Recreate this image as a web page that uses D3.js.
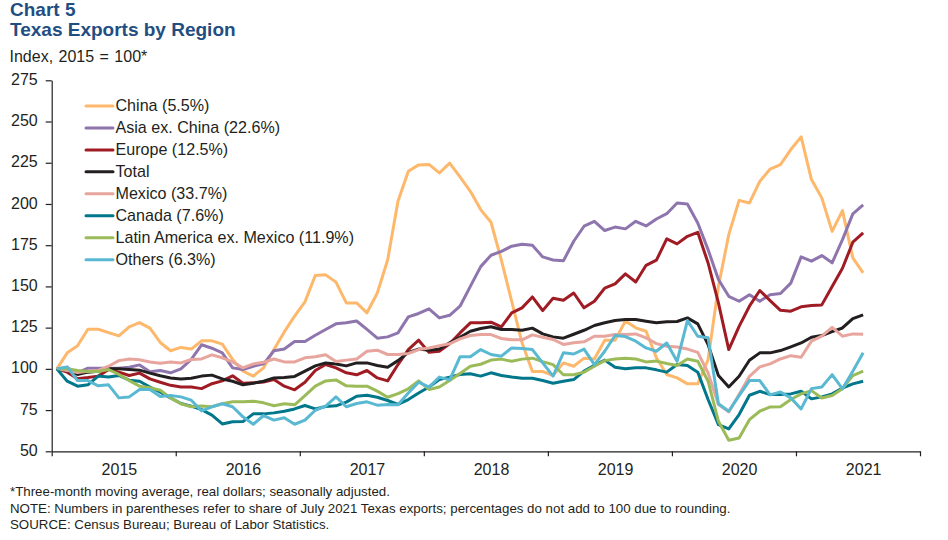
<!DOCTYPE html>
<html>
<head>
<meta charset="utf-8">
<script src="https://cdn.jsdelivr.net/npm/d3@7"></script>
<style>
  html, body { margin: 0; padding: 0; background: #fff; }
  svg { display: block; }
  text { font-family: "Liberation Sans", Arial, sans-serif; fill: #231f20; }
  .title { font-weight: bold; font-size: 19px; fill: #1f4e82; }
  .foot { font-size: 13.3px; }
  .axis text { font-size: 16px; }
  .axis path, .axis line { stroke: #231f20; stroke-width: 1.2; }
  .legend text { font-size: 16.1px; }
</style>
</head>
<body>
<script>
const width = 948;
const height = 540;

const years = ['2015', '2016', '2017', '2018', '2019', '2020', '2021'];
const yTicks = [50, 75, 100, 125, 150, 175, 200, 225, 250, 275];

// monthly, Jan 2015 - Jul 2021
const china = [100, 109.7, 114, 124, 124, 122, 120, 125.5, 128, 124.7, 116, 111, 113, 112, 117, 117, 115, 105.7, 98.6, 95.6, 100.6, 111.7, 122.4, 132, 140.6, 156.6, 157, 152.6, 140, 140, 134, 146, 166, 201.6, 219.8, 223.7, 224, 218.8, 224.8, 216.4, 207.7, 196.6, 188.9, 166, 141, 115.8, 98.4, 98.4, 96, 103.6, 101.6, 106.5, 106, 117.4, 117.4, 129, 124.9, 122.8, 106.7, 96.6, 94.5, 90.9, 90.9, 105.6, 150, 181.4, 202.2, 200.6, 213.7, 221.2, 223.9, 233, 240.7, 214.8, 203.7, 183.4, 196, 167.3, 158.2];
const asia = [100, 100.6, 97.6, 100.4, 100.4, 100.4, 100.4, 101, 102.4, 98.2, 99, 97.6, 100, 105.7, 114.6, 112.5, 109.7, 100.6, 99.6, 101.6, 103, 111, 112, 116.6, 116.6, 120.4, 123.9, 127.3, 127.9, 129, 123.9, 118.6, 119.4, 121.8, 131.5, 133.6, 136.4, 130.9, 132.5, 138, 150, 162, 168.9, 171.3, 174.4, 175.6, 175, 167.9, 166, 165.5, 177.4, 186.5, 189.5, 183.9, 186, 184.9, 189.5, 186.7, 190.9, 194.1, 200.6, 200, 188.5, 172.3, 154.2, 144, 141, 145, 141, 145, 145.7, 152, 167.9, 165.3, 168.7, 164.3, 178.4, 194, 199.4];
const europe = [100, 98, 94, 94.7, 95.6, 99.6, 98, 96, 97.4, 93.9, 91.9, 90, 89, 89, 88, 91, 92.7, 95.8, 91.3, 91.5, 92, 93.5, 89.5, 87.3, 91.9, 99, 102.6, 100.6, 97.6, 96.4, 99, 94.5, 92.7, 102.6, 111.7, 117.4, 110, 110.7, 115.2, 121.8, 127.9, 127.9, 128.3, 125.4, 133.9, 137, 143.6, 135.3, 142.8, 141.6, 146, 137, 141, 149, 151.5, 157.6, 152.7, 162.8, 165.9, 178.8, 175.8, 180.4, 182.8, 164.2, 140, 111.7, 125.8, 138, 147.5, 141.4, 135.5, 135, 137.6, 138.4, 138.8, 150, 161, 176.8, 182.4];
const total = [100, 99, 96.6, 98, 98.6, 100, 100, 99.6, 99.2, 97.4, 95.8, 94.5, 93.9, 94.3, 95.6, 96.2, 93.9, 92.5, 90.3, 91.3, 92.5, 94.5, 94.7, 95.4, 98.6, 101.8, 103.6, 103, 101.8, 103.6, 103.6, 102, 101, 105, 110, 112, 111.3, 112, 115.8, 119.2, 122.8, 124.5, 125.5, 123.9, 123.9, 123.4, 124.7, 121.2, 119.4, 118.6, 121, 123.4, 126.3, 128, 129.3, 129.9, 129.9, 128.9, 127.9, 128.5, 128.7, 130.9, 127.3, 114.7, 95.9, 89, 95.5, 105.2, 109.7, 109.7, 111.1, 113.3, 115.7, 119.2, 120.2, 122.6, 124.8, 130.5, 132.7];
const mexico = [100, 99, 97.8, 98.6, 99, 101.6, 105, 106, 105.5, 104.2, 103.4, 104.2, 103.6, 105.7, 106, 108.5, 106.7, 104.2, 100.6, 103, 104, 106, 104.2, 104.2, 106.7, 107.3, 108.5, 104.4, 105.3, 106, 110.7, 111.3, 108.7, 108.7, 109.3, 111.7, 112.7, 114, 115.2, 118.2, 120.2, 120.8, 120.8, 118.4, 117.6, 117.6, 120.6, 119.2, 117.8, 114.8, 115.8, 116.4, 119.8, 119.8, 120.8, 120.8, 121.2, 118.8, 115.3, 113.7, 113.3, 112, 110, 97.5, 78.4, 73.9, 84.4, 95.5, 101.2, 103, 106, 108, 107, 116.8, 119.8, 125.2, 119.8, 121.2, 121];
const canada = [100, 92.5, 89.5, 90.3, 95.6, 95.1, 96, 93.1, 92.5, 89, 85.8, 82.4, 79, 77.4, 75.3, 71.9, 66.6, 67.9, 68, 72.7, 72.7, 73.3, 74.3, 75.7, 77.8, 75.7, 77.2, 77.6, 79.8, 83.4, 84, 82.8, 80.8, 78.4, 81.4, 85.4, 89, 93.5, 95, 96.6, 97, 95.6, 97.6, 96, 95, 94.3, 94.3, 92.9, 91.3, 92.5, 93.5, 98.6, 102.2, 105.3, 101, 100, 100.6, 100.6, 99.4, 98, 102.6, 102, 98, 81.4, 66.2, 63.6, 72.3, 84, 86.4, 84.4, 84.4, 84.8, 86.4, 81.8, 83, 84.8, 88.4, 90.9, 92.5];
const latam = [100, 100, 99, 98.4, 98.4, 99.6, 96.6, 92.9, 89.5, 88.5, 87, 82.4, 78.8, 77, 77.4, 77, 78.8, 80, 80, 80.4, 79.4, 77.6, 78.8, 78.2, 83.8, 89.5, 92.7, 93.3, 89.7, 89.5, 89.5, 86.5, 82.8, 85, 87.9, 92.7, 87.5, 89, 92.9, 97.2, 101.6, 102.8, 105.3, 105.9, 104.6, 105.9, 106.5, 104.4, 102.6, 96.4, 96.4, 98, 101.6, 105, 106, 106.5, 106, 104.2, 104.7, 103.2, 102, 106, 104.6, 92.5, 68.2, 56.7, 58.1, 69.2, 74.3, 76.9, 77, 81.4, 84.8, 86.8, 82.3, 83.8, 88, 95.9, 98.6];
const others = [100, 101.2, 92.9, 92.9, 89.7, 90.3, 82.4, 83, 87.5, 87.5, 83.2, 83.8, 83, 81, 74.5, 77, 78.8, 77, 70.9, 66.4, 71.7, 68.9, 70.3, 66.4, 68.9, 74.9, 77.4, 83, 77, 79, 80, 78, 78.4, 78.2, 85.4, 91.9, 88.9, 95, 93.3, 107.3, 107.3, 111.7, 108.7, 107.7, 112.7, 112.3, 111.7, 103.6, 95.6, 109.7, 109, 112, 102.6, 110.7, 120.2, 119.6, 116.8, 112.7, 110.7, 115.7, 104.6, 129.3, 119.8, 118.8, 78.8, 74.3, 83.8, 92.9, 92.9, 84.2, 86, 82.4, 75.7, 88, 89, 96.5, 87.9, 98.6, 109.7];

const seriesNames = ['China (5.5%)', 'Asia ex. China (22.6%)', 'Europe (12.5%)', 'Total', 'Mexico (33.7%)', 'Canada (7.6%)', 'Latin America ex. Mexico (11.9%)', 'Others (6.3%)'];
const seriesValues = [china, asia, europe, total, mexico, canada, latam, others];
const seriesColors = ['#fdb86c', '#8f75ad', '#a01c24', '#231f20', '#e8a59d', '#00778b', '#9bbb59', '#5ab9d2'];

const svg = d3.select('body').append('svg').attr('width', width).attr('height', height);

const margin = { left: 51.7, right: 28, top: 80.3, bottom: 88.7 };

// one slot per month, seven years of axis
const x = d3.scaleLinear().domain([0, years.length * 12]).range([margin.left, width - margin.right]);
const y = d3.scaleLinear().domain([50, 275]).range([height - margin.bottom, margin.top]);

svg.append('text').attr('class', 'title').attr('x', 10).attr('y', 16).text('Chart 5');
svg.append('text').attr('class', 'title').attr('x', 10).attr('y', 36).text('Texas Exports by Region');
svg.append('text').attr('x', 9.5).attr('y', 62).style('font-size', '16px').style('word-spacing', '1px').text('Index, 2015 = 100*');

const yAxis = d3.axisLeft(y).tickValues(yTicks).tickSize(6).tickSizeOuter(0).tickPadding(8);
const yG = svg.append('g').attr('class', 'axis').attr('transform', `translate(${margin.left},0)`).call(yAxis);
yG.selectAll('text').attr('y', -1);

const xAxis = d3.axisBottom(x).tickValues(d3.range(0, years.length * 12 + 1, 12)).tickSize(5).tickSizeOuter(0).tickFormat('');
svg.append('g').attr('class', 'axis').attr('transform', `translate(0,${height - margin.bottom})`).call(xAxis);

// year labels sit near the middle of each year, pushed a little right like the original
const yearAxis = d3.axisBottom(x).tickValues(years.map((d, i) => i * 12 + 6.5)).tickSize(0).tickPadding(12)
  .tickFormat((d, i) => years[i]);
const yearG = svg.append('g').attr('class', 'axis').attr('transform', `translate(0,${height - margin.bottom})`).call(yearAxis);
yearG.select('.domain').remove();

const line = d3.line().x((d, i) => x(i + 0.5)).y(d => y(d));

svg.append('g').selectAll('path').data(seriesValues).enter().append('path')
  .attr('d', line)
  .attr('fill', 'none')
  .attr('stroke', (d, i) => seriesColors[i])
  .attr('stroke-width', 3)
  .attr('stroke-linejoin', 'round');

const legend = svg.append('g').attr('class', 'legend');
const row = legend.selectAll('g').data(seriesNames).enter().append('g')
  .attr('transform', (d, i) => `translate(86,${106 + i * 21.95})`);
row.append('line').attr('x1', 0).attr('x2', 27).attr('stroke', (d, i) => seriesColors[i]).attr('stroke-width', 3).attr('stroke-linecap', 'round');
row.append('text').attr('x', 29.5).attr('y', 5).text(d => d);

const notes = ['*Three-month moving average, real dollars; seasonally adjusted.',
  'NOTE: Numbers in parentheses refer to share of July 2021 Texas exports; percentages do not add to 100 due to rounding.',
  'SOURCE: Census Bureau; Bureau of Labor Statistics.'];
svg.append('g').selectAll('text').data(notes).enter().append('text')
  .attr('class', 'foot').attr('x', 10).attr('y', (d, i) => 496 + i * 16.6).text(d => d);
</script>
</body>
</html>
